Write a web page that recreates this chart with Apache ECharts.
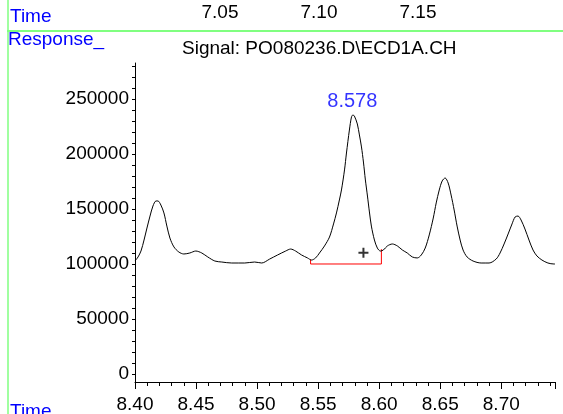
<!DOCTYPE html>
<html>
<head>
<meta charset="utf-8">
<title>ECD1A chromatogram</title>
<style>
  html, body { margin: 0; padding: 0; background: #fff; }
  #container { width: 563px; height: 414px; }
</style>
</head>
<body>
<div id="container"></div>
<script src="https://cdn.jsdelivr.net/npm/echarts@6/dist/echarts.min.js"></script>
<script>
// signal trace (time in min, response)
var timeData = [8.4000, 8.4025, 8.4049, 8.4074, 8.4098, 8.4123, 8.4147, 8.4172, 8.4188, 8.4212,
  8.4237, 8.4261, 8.4286, 8.4319, 8.4359, 8.4400, 8.4449, 8.4498, 8.4547, 8.4596,
  8.4654, 8.4711, 8.4792, 8.4899, 8.4980, 8.5038, 8.5103, 8.5168, 8.5234, 8.5275,
  8.5315, 8.5364, 8.5413, 8.5446, 8.5479, 8.5511, 8.5552, 8.5593, 8.5626, 8.5650,
  8.5674, 8.5691, 8.5716, 8.5732, 8.5756, 8.5773, 8.5785, 8.5797, 8.5821, 8.5838,
  8.5855, 8.5871, 8.5887, 8.5904, 8.5920, 8.5936, 8.5961, 8.5985, 8.6010, 8.6034,
  8.6067, 8.6108, 8.6149, 8.6190, 8.6230, 8.6271, 8.6312, 8.6345, 8.6377, 8.6410,
  8.6443, 8.6467, 8.6492, 8.6516, 8.6540, 8.6565, 8.6589, 8.6614, 8.6638, 8.6663,
  8.6687, 8.6720, 8.6769, 8.6835, 8.6900, 8.6958, 8.6990, 8.7023, 8.7056, 8.7088,
  8.7113, 8.7137, 8.7162, 8.7194, 8.7227, 8.7260, 8.7292, 8.7333, 8.7382, 8.7431, 8.7440];
var responseData = [102700, 106400, 111800, 121800, 132700, 143600, 152700, 157300, 157300, 153600,
  146400, 134500, 123600, 115500, 110900, 109100, 110000, 111800, 110000, 106400,
  102700, 101800, 100900, 100900, 101800, 100900, 104500, 108200, 111800, 113600,
  111800, 108200, 105500, 103600, 105500, 110000, 116400, 124500, 136400, 146400,
  158200, 167300, 185500, 200900, 221800, 233600, 235500, 234500, 227300, 217300,
  206400, 192700, 176400, 161800, 147300, 134500, 121800, 114500, 111800, 112700,
  116400, 118200, 116400, 112700, 110000, 106400, 105500, 108200, 114500, 126400,
  141800, 155500, 167300, 175500, 178200, 173600, 162700, 149100, 134500, 121800,
  112700, 106400, 102700, 100900, 100900, 104500, 110000, 118200, 127300, 136400,
  142700, 143600, 140000, 131800, 121800, 112700, 107300, 103600, 100900, 100000, 100000];

// integration baseline of the 8.578 peak
var baseTime = [8.5438, 8.5438, 8.6018, 8.6018];
var baseResp = [104300, 100000, 100000, 113500];

var peakTime = 8.578;
var peakResp = 235500;
var crossPoint = [8.5871, 110300];

var yTicks = [0, 50000, 100000, 150000, 200000, 250000];
var yMinorTicks = [];
for (var v = 0; v <= 280000; v += 10000) yMinorTicks.push(v);

var topTicks = [7.05, 7.10, 7.15];

var font = "'Liberation Sans', Arial, sans-serif";

var dom = document.getElementById('container');
var myChart = echarts.init(dom);

var trace = timeData.map(function (t, i) { return [t, responseData[i]]; });
var baseline = baseTime.map(function (t, i) { return [t, baseResp[i]]; });

myChart.setOption({
  animation: false,
  backgroundColor: '#fff',
  textStyle: { fontFamily: font },
  grid: [
    { left: 135, right: 8, top: 63, bottom: 32 },
    { left: 121, width: 396, top: 24, height: 1 } // secondary time scale on top
  ],
  xAxis: [{
    type: 'value',
    gridIndex: 0,
    min: 8.40,
    max: 8.744,
    interval: 0.05,
    axisLine: { onZero: false, lineStyle: { color: '#000', width: 1 } },
    axisTick: { length: 7, lineStyle: { color: '#000' } },
    minorTick: { show: true, splitNumber: 5, length: 4, lineStyle: { color: '#000' } },
    splitLine: { show: false },
    axisLabel: {
      color: '#000', fontSize: 19, fontFamily: font, margin: 13, showMaxLabel: false,
      formatter: function (v) { return v.toFixed(2); }
    }
  }, {
    type: 'value',
    gridIndex: 1,
    position: 'top',
    min: 7.00,
    max: 7.20,
    interval: 0.05,
    axisLine: { show: false },
    axisTick: { show: false },
    splitLine: { show: false },
    axisLabel: {
      color: '#000', fontSize: 19, fontFamily: font, margin: 2,
      customValues: topTicks,
      formatter: function (v) { return v.toFixed(2); }
    }
  }],
  yAxis: [{
    type: 'value',
    gridIndex: 0,
    min: -7273,
    max: 282727,
    axisLine: { show: true, onZero: false, lineStyle: { color: '#000', width: 1 } },
    axisTick: { show: true, length: 3, customValues: yMinorTicks, lineStyle: { color: '#000' } },
    splitLine: { show: false },
    axisLabel: {
      color: '#000', fontSize: 19, fontFamily: font, margin: 6,
      customValues: yTicks,
      formatter: function (v) { return String(Math.round(v)); }
    }
  }, {
    type: 'value',
    gridIndex: 1,
    show: false
  }],
  graphic: [
    { type: 'line', shape: { x1: 7, y1: 31, x2: 563, y2: 31 }, style: { stroke: '#80ff80', lineWidth: 2 } },
    { type: 'line', shape: { x1: 8, y1: 0, x2: 8, y2: 414 }, style: { stroke: '#80ff80', lineWidth: 1.5 } },
    { type: 'text', left: 10, top: 7, style: { text: 'Time', fill: '#0000ff', font: '19px ' + font } },
    { type: 'text', left: 8, top: 30, style: { text: 'Response_', fill: '#0000ff', font: '19px ' + font } },
    { type: 'text', left: 10, top: 402, style: { text: 'Time', fill: '#0000ff', font: '19px ' + font } },
    { type: 'text', left: 182, top: 39, style: { text: 'Signal: PO080236.D\\ECD1A.CH', fill: '#000', font: '19px ' + font } }
  ],
  series: [{
    name: 'signal',
    type: 'line',
    data: trace,
    showSymbol: false,
    smooth: 0.3,
    lineStyle: { color: '#000', width: 1 },
    z: 3
  }, {
    name: 'baseline',
    type: 'line',
    data: baseline,
    showSymbol: false,
    lineStyle: { color: '#ff0000', width: 1 },
    z: 2
  }, {
    name: 'apex',
    type: 'scatter',
    data: [[peakTime, peakResp]],
    symbolSize: 0,
    label: {
      show: true, position: 'top', distance: 3,
      formatter: function () { return peakTime.toFixed(3); },
      color: '#0000ff', fontSize: 20, fontFamily: font
    }
  }, {
    name: 'cross',
    type: 'scatter',
    data: [crossPoint],
    symbol: 'path://M4,0H6V4H10V6H6V10H4V6H0V4H4Z',
    symbolSize: 10,
    itemStyle: { color: '#000' }
  }]
});
</script>
</body>
</html>
